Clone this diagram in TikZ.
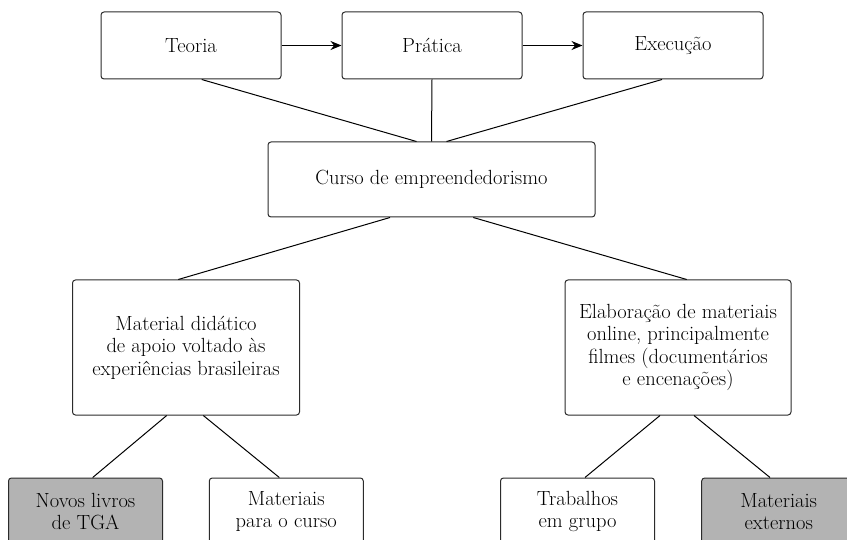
\documentclass[tikz,border=0pt]{standalone}
\usetikzlibrary{arrows.meta}
\definecolor{boxgray}{HTML}{B3B3B3}
\definecolor{boxline}{HTML}{2B2B2B}
\tikzset{
  >={Stealth[length=11pt, width=9pt]}, % filled arrow heads
  box/.style={draw=boxline, line width=1pt, rounded corners=3pt, fill=white,
    align=center, inner sep=2pt, font=\fontsize{20.5}{22.4}\selectfont},
  topbox/.style={box, minimum width=180pt, minimum height=67pt},
  leafbox/.style={box, minimum width=154pt, minimum height=67pt},
  shaded/.style={fill=boxgray},
  link/.style={draw=black, line width=1pt},
}

\begin{document}
\begin{tikzpicture}[x=1pt, y=-1pt]
  \useasboundingbox (0,0) rectangle (847,540);

  % top row
  \node[topbox] (teoria) at (191,45.5) {Teoria};
  \node[topbox] (pratica) at (432,45.5) {Prática};
  \node[topbox] (execucao) at (673,45.5) {Execução};

  % middle
  \node[box, minimum width=327pt, minimum height=75pt] (curso) at (431.5,179.5) {Curso de empreendedorismo};
  \node[box, minimum width=227pt, minimum height=135pt] (material) at (186,347.5)
    {Material didático\\de apoio voltado às\\experiências brasileiras};
  \node[box, minimum width=226pt, minimum height=135pt] (elaboracao) at (678,347.5)
    {Elaboração de materiais\\online, principalmente\\filmes (documentários\\e encenações)};

  % bottom row
  \node[leafbox, shaded] (novos) at (85.5,511.5) {Novos livros\\de TGA};
  \node[leafbox] (paracurso) at (286.3,511.5) {Materiais\\para o curso};
  \node[leafbox] (trabalhos) at (577.5,511.5) {Trabalhos\\em grupo};
  \node[leafbox, shaded] (externos) at (778.7,511.5) {Materiais\\externos};

  \draw[link, ->] (teoria) -- (pratica);
  \draw[link, ->] (pratica) -- (execucao);

  \draw[link] ([xshift=10.7pt]teoria.south) -- ([xshift=-15pt]curso.north);
  \draw[link] (pratica.south) -- (curso.north);
  \draw[link] ([xshift=-11pt]execucao.south) -- ([xshift=15pt]curso.north);

  \draw[link] ([xshift=-41.5pt]curso.south) -- ([xshift=-7.7pt]material.north);
  \draw[link] ([xshift=41.8pt]curso.south) -- ([xshift=8.7pt]elaboracao.north);

  \draw[link] ([xshift=-19.3pt]material.south) -- ([xshift=7.2pt]novos.north);
  \draw[link] ([xshift=17.3pt]material.south) -- ([xshift=-7pt]paracurso.north);
  \draw[link] ([xshift=-18pt]elaboracao.south) -- ([xshift=7.5pt]trabalhos.north);
  \draw[link] ([xshift=16pt]elaboracao.south) -- ([xshift=-8.7pt]externos.north);
\end{tikzpicture}
\end{document}
